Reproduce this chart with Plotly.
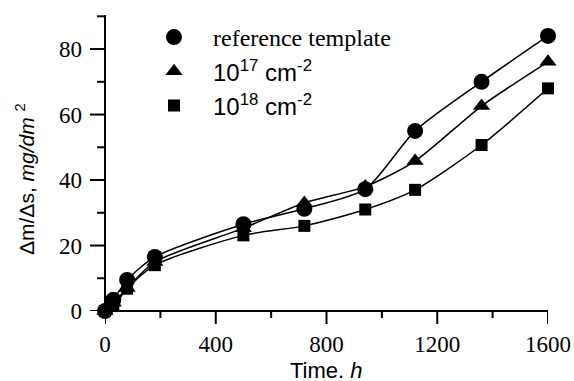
import plotly.graph_objects as go

time_h = [0, 30, 80, 180, 500, 720, 940, 1120, 1360, 1600]
ref_template = [0, 3.4, 9.5, 16.5, 26.5, 31.2, 37.2, 55, 70, 84]
dose_1e17 = [0, 2.5, 7, 15, 25.3, 33, 38, 45.8, 62.6, 76.1]
dose_1e18 = [0, 1.5, 6.8, 14, 23.1, 26, 31, 37, 50.7, 68]

x_major = [0, 400, 800, 1200, 1600]
x_minor = [200, 600, 1000, 1400]
y_major = [0, 20, 40, 60, 80]
y_minor = [10, 30, 50, 70, 90]

series_names = ['<span style="font-family:Liberation Serif">reference template</span>',
                '10<sup>17</sup> cm<sup>-2</sup>',
                '10<sup>18</sup> cm<sup>-2</sup>']
symbols = ['circle', 'triangle-up', 'square']
sizes = [16, 15, 12]
series = [ref_template, dose_1e17, dose_1e18]

fig = go.Figure()
for name, ys, sym, sz in zip(series_names, series, symbols, sizes):
    fig.add_trace(go.Scatter(
        x=time_h, y=ys, mode='lines+markers', showlegend=False, cliponaxis=False,
        line=dict(color='black', width=1.5, shape='spline', smoothing=0.7),
        marker=dict(symbol=sym, size=sz, color='black')))
for i, (name, sym, sz) in enumerate(zip(series_names, symbols, sizes)):
    fig.add_trace(go.Scatter(
        x=[None], y=[None], mode='markers', name=name, legendgroup=f'g{i}',
        marker=dict(symbol=sym, size=sz, color='black')))

W, H = 574, 381
L, R, T, B = 105, 574 - 548, 15, 381 - 311
pw, ph = W - L - R, H - T - B

def px(xp):
    return (xp - L) / pw

def py(yp):
    return 1 - (yp - T) / ph

# axis lines and ticks as thin filled rectangles
bar = dict(type='rect', fillcolor='black', line=dict(width=0), layer='above')
shapes = [
    dict(bar, xref='x domain', x0=0, x1=1, yref='y domain', ysizemode='pixel', yanchor=0, y0=-1, y1=1),
    dict(bar, yref='y domain', y0=0, y1=1, xref='x domain', xsizemode='pixel', xanchor=0, x0=-1, x1=1),
]
for vals, ln in ((x_major, 13), (x_minor, 7)):
    for v in vals:
        shapes.append(dict(bar, xref='x', xsizemode='pixel', xanchor=v, x0=-1, x1=1,
                           yref='y domain', ysizemode='pixel', yanchor=0, y0=-ln, y1=0))
for vals, ln in ((y_major, 15), (y_minor, 8)):
    for v in vals:
        shapes.append(dict(bar, yref='y', ysizemode='pixel', yanchor=v, y0=-1, y1=1,
                           xref='x domain', xsizemode='pixel', xanchor=0, x0=-ln, x1=0))

fig.update_layout(
    width=W, height=H,
    margin=dict(l=L, r=R, t=T, b=B, autoexpand=False),
    paper_bgcolor='white', plot_bgcolor='white',
    font=dict(family='Liberation Sans', size=20, color='black'),
    legend=dict(x=px(135), y=py(15), xanchor='left', yanchor='top',
                bgcolor='rgba(0,0,0,0)', font=dict(size=24, family='Liberation Sans'),
                itemwidth=68, tracegroupgap=0),
    xaxis=dict(range=[0, 1600], automargin=False,
               showgrid=False, zeroline=False, showline=False, ticks='',
               tickvals=x_major, ticktext=[str(v) for v in x_major], ticklabelstandoff=17,
               tickfont=dict(family='Liberation Serif', size=23)),
    yaxis=dict(range=[0, 90.4], automargin=False,
               showgrid=False, zeroline=False, showline=False, ticks='',
               tickvals=y_major, ticktext=[str(v) for v in y_major], ticklabelstandoff=22,
               tickfont=dict(family='Liberation Serif', size=23)),
    shapes=shapes,
    annotations=[
        dict(text='Time. <i>h</i>', xref='paper', yref='paper', xanchor='center', yanchor='middle',
             x=px(326), y=py(370), showarrow=False,
             font=dict(family='Liberation Sans', size=22)),
        dict(text='Δm/Δs, <i>mg/dm</i> <sup>2</sup>', xref='paper', yref='paper',
             xanchor='center', yanchor='middle',
             x=px(25), y=py(179), showarrow=False, textangle=-90,
             font=dict(family='Liberation Sans', size=21)),
    ],
)

fig.write_html('out.html', config={'displayModeBar': False},
               post_script="document.body.style.margin='0';document.body.style.overflow='hidden';")
